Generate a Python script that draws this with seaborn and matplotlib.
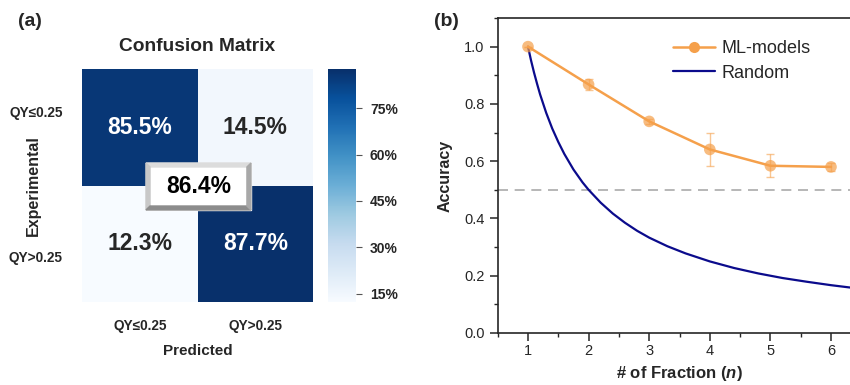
import numpy as np
import matplotlib
matplotlib.use("Agg")
import matplotlib.pyplot as plt
import seaborn as sns
from matplotlib.lines import Line2D
from matplotlib.patches import Polygon, Rectangle
from matplotlib.ticker import MultipleLocator

# ---- data ----
classes = ["QY\u22640.25", "QY>0.25"]
cm_values = [[85.5, 14.5],
             [12.3, 87.7]]
overall_acc = 86.4
cbar_ticks = [15, 30, 45, 60, 75]

fraction = [1, 2, 3, 4, 5, 6]
ml_acc = [1.0, 0.868, 0.739, 0.641, 0.584, 0.580]
ml_err = [0.0, 0.018, 0.010, 0.057, 0.040, 0.014]

random_x = [1.0, 1.05, 1.1, 1.15, 1.2, 1.3, 1.4, 1.5, 1.6, 1.75, 1.9, 2.0, 2.2, 2.4,
            2.6, 2.8, 3.0, 3.3, 3.6, 4.0, 4.4, 4.8, 5.2, 5.6, 6.0, 6.5]
random_y = [1.0, 0.952, 0.909, 0.870, 0.833, 0.769, 0.714, 0.667, 0.625, 0.571,
            0.526, 0.500, 0.455, 0.417, 0.385, 0.357, 0.333, 0.303, 0.278, 0.250,
            0.227, 0.208, 0.192, 0.179, 0.167, 0.154]

ORANGE = "#f5a04b"
NAVY = "#0b0b8c"

sns.set_style("ticks")
plt.rcParams["font.family"] = ["Liberation Sans", "DejaVu Sans"]
plt.rcParams["mathtext.fontset"] = "custom"
plt.rcParams["mathtext.it"] = "Liberation Sans:italic"
plt.rcParams["mathtext.bf"] = "Liberation Sans:bold"
plt.rcParams["mathtext.bfit"] = "Liberation Sans:bold:italic"

W, H = 850, 385
fig = plt.figure(figsize=(8.5, 3.85), dpi=100)
ax1 = fig.add_axes([82 / W, 1 - 302 / H, 231 / W, 233 / H])
cax = fig.add_axes([328 / W, 1 - 302 / H, 28 / W, 233 / H])
ax2 = fig.add_axes([497.7 / W, 1 - 333 / H, 363.6 / W, 315 / H])

# ---- (a) confusion matrix ----
cm = np.array(cm_values)
annot = np.array([[f"{v:.1f}%" for v in row] for row in cm_values])
sns.heatmap(cm, ax=ax1, cbar_ax=cax, cmap="Blues", vmin=cm.min(), vmax=cm.max(),
            annot=annot, fmt="", annot_kws=dict(size=16.5, weight="bold"),
            xticklabels=classes, yticklabels=classes)
ax1.set_yticks([0.38, 1.62])
ax1.set_yticklabels(classes, rotation=0, fontsize=9.8, fontweight="bold")
ax1.set_xticklabels(classes, fontsize=9.8, fontweight="bold")
ax1.tick_params(length=0)
ax1.tick_params(axis="x", pad=12)
ax1.tick_params(axis="y", pad=14)
ax1.set_xlabel("Predicted", fontsize=11, fontweight="bold", labelpad=8)
ax1.set_ylabel("Experimental", fontsize=11.5, fontweight="bold")
ax1.yaxis.set_label_coords(-0.178, 0.5)
ax1.set_title("Confusion Matrix", fontsize=13.8, fontweight="bold", pad=13)

cax.set_yticks(cbar_ticks)
cax.set_yticklabels([f"{t}%" for t in cbar_ticks], fontsize=10, fontweight="bold")
cax.tick_params(length=4, width=0.8, color="#555555", pad=6)

# bevelled box with overall accuracy
bx0, bx1, by0, by1 = 0.554, 1.463, 0.807, 1.21
bw, bh = 0.035, 0.034
ax1.add_patch(Rectangle((bx0, by0), bx1 - bx0, by1 - by0, color="white", zorder=5))
ax1.add_patch(Polygon([(bx0, by0), (bx1, by0), (bx1 - bw, by0 + bh), (bx0 + bw, by0 + bh)],
                      color="#dcdcdc", zorder=6))
ax1.add_patch(Polygon([(bx0, by0), (bx0 + bw, by0 + bh), (bx0 + bw, by1 - bh), (bx0, by1)],
                      color="#c8c8c8", zorder=6))
ax1.add_patch(Polygon([(bx0, by1), (bx0 + bw, by1 - bh), (bx1 - bw, by1 - bh), (bx1, by1)],
                      color="#8c8c8c", zorder=6))
ax1.add_patch(Polygon([(bx1, by0), (bx1, by1), (bx1 - bw, by1 - bh), (bx1 - bw, by0 + bh)],
                      color="#a8a8a8", zorder=6))
ax1.text((bx0 + bx1) / 2, (by0 + by1) / 2, f"{overall_acc:.1f}%", ha="center", va="center",
         fontsize=16.5, fontweight="bold", color="black", zorder=7)

# ---- (b) accuracy vs fraction ----
ax2.axhline(0.5, color="#aaaaaa", ls=(0, (6, 4)), lw=1.2, zorder=1)
sns.lineplot(x=random_x, y=random_y, ax=ax2, color=NAVY, lw=1.6, zorder=2)
sns.lineplot(x=fraction, y=ml_acc, ax=ax2, color=ORANGE, lw=1.8, zorder=3)
ax2.errorbar(fraction, ml_acc, yerr=ml_err, fmt="none", ecolor=ORANGE, alpha=0.6,
             capsize=3, elinewidth=1, capthick=1, zorder=3)
sns.scatterplot(x=fraction, y=ml_acc, ax=ax2, color=ORANGE, s=70, alpha=0.7,
                edgecolor="none", zorder=4)

ax2.set_xlim(0.5, 6.5)
ax2.set_ylim(0, 1.1)
ax2.set_xticks(fraction)
ax2.set_yticks([0.0, 0.2, 0.4, 0.6, 0.8, 1.0])
ax2.set_yticklabels([f"{v:.1f}" for v in [0.0, 0.2, 0.4, 0.6, 0.8, 1.0]])
ax2.xaxis.set_minor_locator(MultipleLocator(0.5))
ax2.yaxis.set_minor_locator(MultipleLocator(0.1))
ax2.tick_params(which="major", length=6, width=1.1, labelsize=10.5, direction="out")
ax2.tick_params(axis="x", which="major", pad=2)
ax2.tick_params(which="minor", length=3, width=1.0, direction="out")
for s in ["left", "bottom", "top"]:
    ax2.spines[s].set_visible(True)
    ax2.spines[s].set_linewidth(1.2)
ax2.spines["right"].set_visible(False)
ax2.set_ylabel("Accuracy", fontsize=11.5, fontweight="bold", labelpad=8)
ax2.set_xlabel(r"# of Fraction ($\mathbfit{n}$)", fontsize=12, fontweight="bold", labelpad=4)

handles = [Line2D([], [], color=ORANGE, lw=1.8, marker="o", ms=8, mfc=ORANGE, mec="none"),
           Line2D([], [], color=NAVY, lw=1.6)]
ax2.legend(handles, ["ML-models", "Random"], loc="upper left", frameon=False,
           bbox_to_anchor=(673 / W, 0.895), bbox_transform=fig.transFigure,
           borderpad=0, borderaxespad=0, fontsize=13, handlelength=2.3,
           handletextpad=0.4, labelspacing=0.4)

fig.text(30 / W, 1 - 22 / H, "(a)", fontsize=14, fontweight="bold", ha="center", va="center")
fig.text(446 / W, 1 - 22 / H, "(b)", fontsize=14, fontweight="bold", ha="center", va="center")

fig.savefig("out.png", dpi=100)
